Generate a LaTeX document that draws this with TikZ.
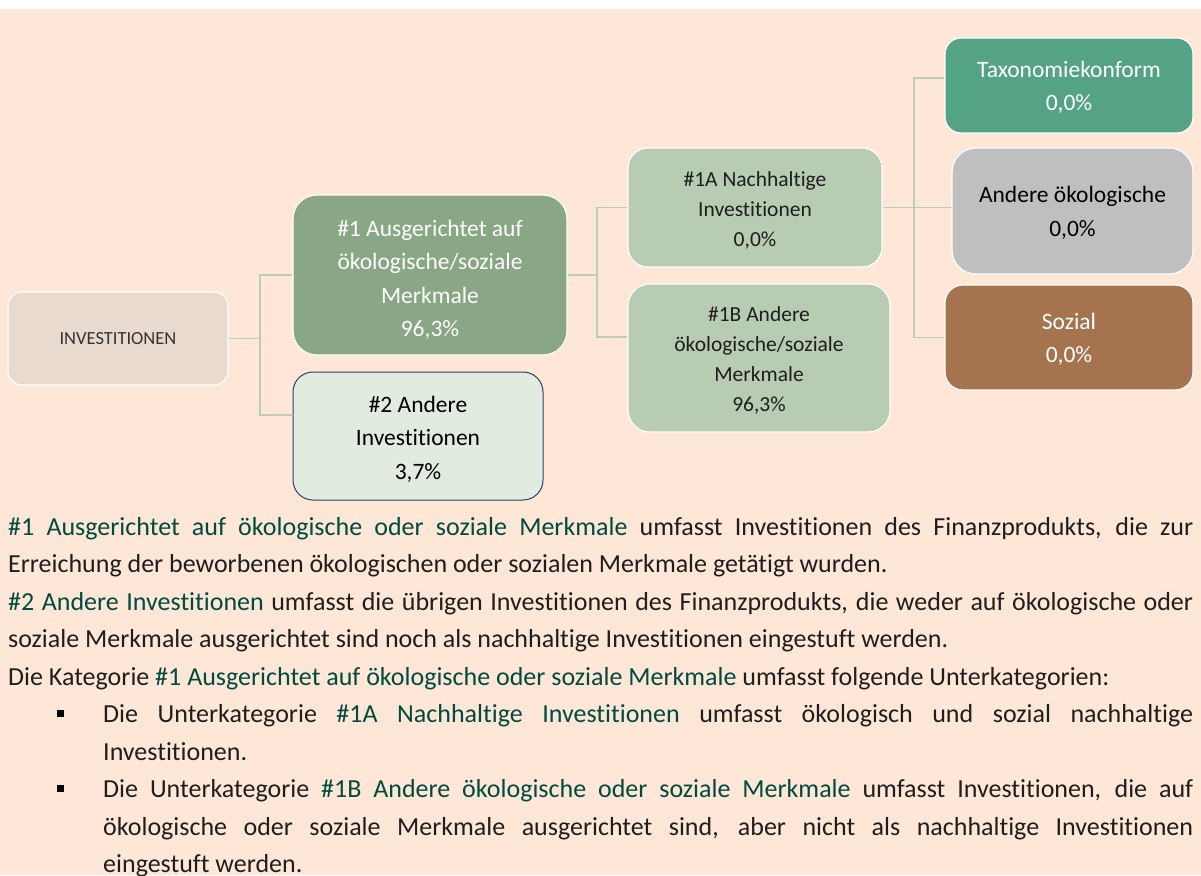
\documentclass[tikz,border=0pt]{standalone}
\usepackage{fontspec}
\setmainfont{Carlito}[Ligatures={NoCommon}]
\definecolor{bgpeach}{HTML}{FEE7D7}
\definecolor{invfill}{HTML}{E8DACE}
\definecolor{merkfill}{HTML}{89A784}
\definecolor{andfill}{HTML}{E2EBE0}
\definecolor{andline}{HTML}{2F3F6E}
\definecolor{subfill}{HTML}{B8CBB3}
\definecolor{taxfill}{HTML}{55A385}
\definecolor{oekfill}{HTML}{BFBFBF}
\definecolor{sozfill}{HTML}{A5744F}
\definecolor{linkgreen}{HTML}{B9CFB2}
\definecolor{katcol}{HTML}{004A40}
\definecolor{bodytext}{HTML}{1E1E1E}
\newcommand{\kat}[1]{\textcolor{katcol}{#1}}
\newcommand{\lift}[1]{\rule{0pt}{#1}}
\hyphenpenalty=10000
\tolerance=9999

\begin{document}
\begin{tikzpicture}
  [x=1pt,y=-1pt,
   catbox/.style={rounded corners=18pt,draw=white,line width=1.2pt,inner sep=4pt,
     align=center,font=\fontsize{23.5}{33.5}\selectfont},
   subbox/.style={catbox,font=\fontsize{21.5}{30}\selectfont,text=bodytext},
   link/.style={draw=linkgreen,line width=1.5pt},
   para/.style={anchor=north west,inner sep=0pt,text width=1185pt,align=justify,text=bodytext,
     font=\fontsize{26}{37.5}\selectfont},
   item/.style={para,text width=1090pt},
   bullet/.style={fill=black,inner sep=0pt,minimum size=7pt}]
  \useasboundingbox (0,0) rectangle (1201,875);
  \fill[white] (0,0) rectangle (1201,875);
  \fill[bgpeach] (0,9) rectangle (1201,875);

  % boxes
  \node[catbox,fill=invfill,rounded corners=14pt,minimum width=220pt,minimum height=93pt,
    text=black!80,font=\fontsize{18.5}{22}\selectfont] (inv) at (118,338.5) {INVESTITIONEN};
  \node[catbox,fill=merkfill,rounded corners=24pt,minimum width=274pt,minimum height=160pt,
    text=white] (m1) at (430,275) {\lift{25.6pt}\#1 Ausgerichtet auf\\ökologische/soziale\\Merkmale\\96,3\%};
  \node[catbox,fill=andfill,draw=andline,line width=1pt,rounded corners=20pt,
    minimum width=250pt,minimum height=128pt,text=black] (m2) at (418,436) {\lift{22.6pt}\#2 Andere\\Investitionen\\3,7\%};
  \node[subbox,fill=subfill,rounded corners=20pt,minimum width=254pt,minimum height=119pt]
    (s1a) at (755,207.5) {\lift{20pt}\#1A Nachhaltige\\Investitionen\\0,0\%};
  \node[subbox,fill=subfill,rounded corners=22pt,minimum width=262pt,minimum height=148pt]
    (s1b) at (759,358) {\lift{20pt}\#1B Andere\\ökologische/soziale\\Merkmale\\96,3\%};
  \node[catbox,fill=taxfill,rounded corners=16pt,minimum width=248pt,minimum height=95pt,
    text=white] (tax) at (1069,85.5) {\lift{19.6pt}Taxonomiekonform\\0,0\%};
  \node[catbox,fill=oekfill,rounded corners=24pt,minimum width=241pt,minimum height=126pt,
    text=black] (oek) at (1072.5,211) {\lift{19.6pt}Andere ökologische\\0,0\%};
  \node[catbox,fill=sozfill,rounded corners=18pt,minimum width=248pt,minimum height=105pt,
    text=white] (soz) at (1069,337.5) {\lift{19.6pt}Sozial\\0,0\%};

  % connectors
  \coordinate (j1) at (260,338.5);
  \coordinate (j2) at (597,275);
  \coordinate (j3) at (914,207.5);
  \draw[link] (inv.east) -- (j1) |- (m1.west);
  \draw[link] (j1) |- ([yshift=21pt]m2.west);
  \draw[link] (m1.east) -- (j2) |- (s1a.west);
  \draw[link] (j2) |- ([yshift=21pt]s1b.west);
  \draw[link] (s1a.east) -- (j3) |- ([yshift=7.5pt]tax.west);
  \draw[link] (j3) -- (j3 -| oek.west);
  \draw[link] (j3) |- (soz.west);

  % explanations
  \node[para] (txt1) at (8,508.75) {\strut\kat{\#1 Ausgerichtet auf ökologische oder soziale Merkmale} umfasst Investitionen des Finanzprodukts, die zur\linebreak Erreichung der beworbenen ökologischen oder sozialen Merkmale getätigt wurden.};
  \node[para] (txt2) at (8,583.75) {\strut\kat{\#2 Andere Investitionen} umfasst die übrigen Investitionen des Finanzprodukts, die weder auf ökologische oder\linebreak soziale Merkmale ausgerichtet sind noch als nachhaltige Investitionen eingestuft werden.};
  \node[para] (txt3) at (8,658.75) {\strut Die Kategorie \kat{\#1 Ausgerichtet auf ökologische oder soziale Merkmale} umfasst folgende Unterkategorien:};
  \node[item] (itm1) at (103,696.25) {\strut Die Unterkategorie \kat{\#1A Nachhaltige Investitionen} umfasst ökologisch und sozial nachhaltige\linebreak Investitionen.};
  \node[item] (itm2) at (103,771.25) {\strut Die Unterkategorie \kat{\#1B Andere ökologische oder soziale Merkmale} umfasst Investitionen, die auf\linebreak ökologische oder soziale Merkmale ausgerichtet sind, aber nicht als nachhaltige Investitionen\linebreak eingestuft werden.};
  \node[bullet] (blt1) at (60.5,713) {};
  \node[bullet] (blt2) at (60.5,788) {};
\end{tikzpicture}
\end{document}
